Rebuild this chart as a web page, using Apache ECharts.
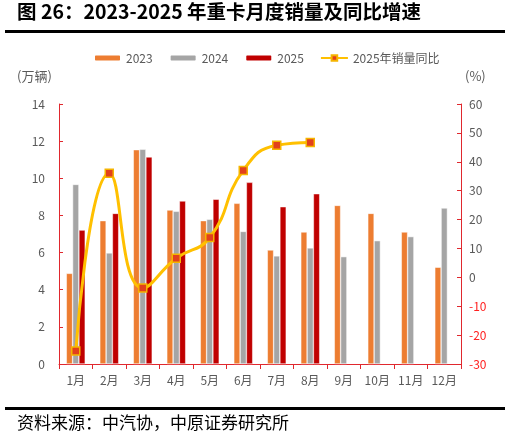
<!DOCTYPE html>
<html>
<head>
<meta charset="utf-8">
<script src="https://cdn.jsdelivr.net/npm/echarts@6/dist/echarts.min.js"></script>
<style>
html, body { margin: 0; padding: 0; background: #fff; }
#main { width: 511px; height: 440px; }
</style>
</head>
<body>
<div id="main"></div>
<script type="application/javascript">
var months = ['1月', '2月', '3月', '4月', '5月', '6月', '7月', '8月', '9月', '10月', '11月', '12月'];
var sales2023 = [4.88, 7.72, 11.54, 8.29, 7.72, 8.65, 6.14, 7.11, 8.54, 8.11, 7.11, 5.21];
var sales2024 = [9.67, 5.98, 11.56, 8.22, 7.79, 7.14, 5.82, 6.25, 5.78, 6.64, 6.86, 8.40];
var sales2025 = [7.21, 8.11, 11.15, 8.78, 8.87, 9.78, 8.47, 9.17];
var yoy2025 = [-25.5, 36, -3.7, 6.6, 13.8, 37, 45.7, 46.7];

var titleText = '图 26：2023-2025 年重卡月度销量及同比增速';
var sourceText = '资料来源：中汽协，中原证券研究所';

var font = '"Noto Sans CJK SC", "Noto Sans", sans-serif';
var axisRed = '#E0282E';
var labelGrey = '#595959';

var myChart = echarts.init(document.getElementById('main'));

var option = {
    backgroundColor: '#fff',
    textStyle: {fontFamily: font},
    animation: false,
    graphic: [
        {type: 'text', left: 17, top: 2,
         style: {text: titleText, font: 'bold 19.5px ' + font, fill: '#000'}},
        {type: 'rect', shape: {x: 5, y: 30, width: 500, height: 3}, style: {fill: '#000'}},
        {type: 'rect', shape: {x: 5, y: 407, width: 500, height: 3}, style: {fill: '#000'}},
        {type: 'text', left: 17, top: 414,
         style: {text: sourceText, font: '17px ' + font, fill: '#000'}},
        {type: 'text', left: 17, top: 70,
         style: {text: '(万辆)', font: '13px ' + font, fill: labelGrey}},
        {type: 'text', left: 465, top: 70,
         style: {text: '(%)', font: '13px ' + font, fill: labelGrey}}
    ],
    legend: {
        top: 47,
        left: 88,
        itemWidth: 27,
        itemHeight: 7,
        itemGap: 16,
        textStyle: {color: labelGrey, fontSize: 12, fontFamily: font},
        data: ['2023', '2024', '2025', '2025年销量同比']
    },
    grid: {left: 59, right: 50, top: 104, bottom: 76},
    xAxis: {
        type: 'category',
        data: months,
        axisLine: {lineStyle: {color: axisRed, width: 1}},
        axisTick: {show: true, alignWithLabel: false, length: 5, lineStyle: {color: axisRed}},
        axisLabel: {color: labelGrey, fontSize: 12, margin: 10}
    },
    yAxis: [
        {
            type: 'value', min: 0, max: 14, interval: 2,
            axisLine: {show: true, lineStyle: {color: axisRed}},
            axisTick: {show: true, inside: true, length: 4, lineStyle: {color: axisRed}},
            axisLabel: {color: labelGrey, fontSize: 12, margin: 14},
            splitLine: {show: false}
        },
        {
            type: 'value', min: -30, max: 60, interval: 10,
            axisLine: {show: true, lineStyle: {color: axisRed}},
            axisTick: {show: true, inside: true, length: 4, lineStyle: {color: axisRed}},
            axisLabel: {
                fontSize: 12, margin: 8,
                color: function (v) { return v < 0 ? '#FF2020' : labelGrey; }
            },
            splitLine: {show: false}
        }
    ],
    series: [
        {
            name: '2023', type: 'bar', data: sales2023,
            barWidth: 6.3, barGap: '0%',
            itemStyle: {color: '#ED7D31', borderColor: '#fff', borderWidth: 0.5}
        },
        {
            name: '2024', type: 'bar', data: sales2024,
            barWidth: 6.3, barGap: '0%',
            itemStyle: {color: '#A5A5A5', borderColor: '#fff', borderWidth: 0.5}
        },
        {
            name: '2025', type: 'bar', data: sales2025,
            barWidth: 6.3, barGap: '0%',
            itemStyle: {color: '#C00000', borderColor: '#fff', borderWidth: 0.5}
        },
        {
            name: '2025年销量同比', type: 'line', yAxisIndex: 1, data: yoy2025,
            smooth: 0.5,
            symbol: 'rect', symbolSize: 8,
            lineStyle: {color: '#FFC000', width: 3},
            itemStyle: {color: '#E2401C', borderColor: '#F5B400', borderWidth: 1.5},
            z: 5
        }
    ]
};
myChart.setOption(option);
</script>
</body>
</html>
